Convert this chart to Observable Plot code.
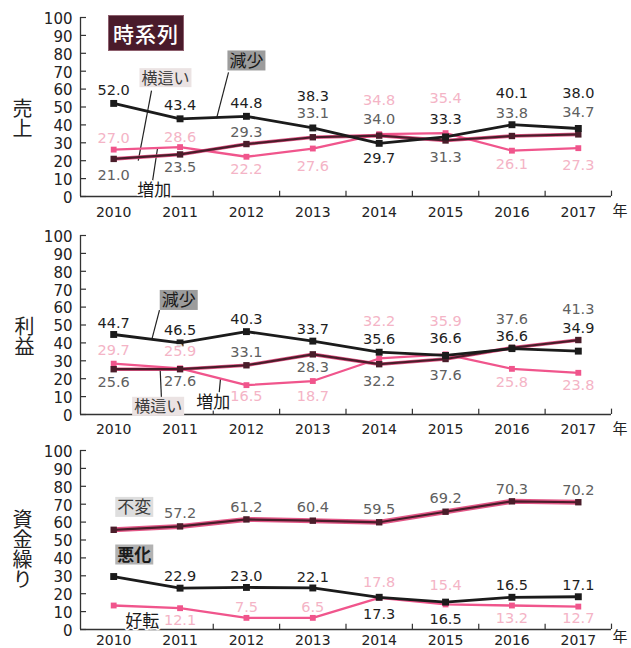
<!DOCTYPE html>
<html>
<head>
<meta charset="utf-8">
<script src="https://cdn.jsdelivr.net/npm/d3@7"></script>
<script src="https://cdn.jsdelivr.net/npm/@observablehq/plot@0.6"></script>
<style>
  html, body { margin: 0; padding: 0; background: #fff; overflow: hidden; }
  #chart { position: relative; width: 631px; height: 648px; overflow: hidden; font-family: "DejaVu Sans", sans-serif; }
  .panel { position: absolute; left: 0; }
  .vlabel { position: absolute; writing-mode: vertical-rl; font-family: "Noto Sans CJK JP", sans-serif; font-weight: 400; font-size: 20px; line-height: 1; color: #222; }
  #badge { position: absolute; left: 108px; top: 15px; width: 76px; height: 36px; background: #4a1b2b; color: #fff; font-family: "Noto Sans CJK JP", sans-serif; font-weight: 500; font-size: 21px; display: flex; align-items: center; justify-content: center; letter-spacing: 1px; box-shadow: inset 0 0 0 1px #8d5f6d; z-index: 5; }
</style>
</head>
<body>
<div id="chart">
  <div class="vlabel" style="left:12px;top:98px">売上</div>
  <div class="vlabel" style="left:14px;top:316px">利益</div>
  <div class="vlabel" style="left:12px;top:509px">資金繰り</div>
  <div id="badge">時系列</div>
</div>
<script>
// ---------- data ----------
const years = [2010, 2011, 2012, 2013, 2014, 2015, 2016, 2017];
const yTicks = [0, 10, 20, 30, 40, 50, 60, 70, 80, 90, 100];
const yearBounds = [2010.5, 2011.5, 2012.5, 2013.5, 2014.5, 2015.5, 2016.5, 2017.5];
const panelTitles = ["売上", "利益", "資金繰り"];

// 売上 (sales)
const salesDecrease = [52.0, 43.4, 44.8, 38.3, 29.7, 33.3, 40.1, 38.0];
const salesDecreaseText = ["52.0", "43.4", "44.8", "38.3", "29.7", "33.3", "40.1", "38.0"];
const salesFlat = [21.0, 23.5, 29.3, 33.1, 34.0, 31.3, 33.8, 34.7];
const salesFlatText = ["21.0", "23.5", "29.3", "33.1", "34.0", "31.3", "33.8", "34.7"];
const salesIncrease = [26.2, 27.6, 22.2, 26.8, 34.8, 35.4, 25.6, 27.0];
const salesIncreaseText = ["27.0", "28.6", "22.2", "27.6", "34.8", "35.4", "26.1", "27.3"];

// 利益 (profit)
const profitDecrease = [44.7, 40.0, 46.3, 41.0, 34.8, 33.0, 36.8, 35.4];
const profitDecreaseText = ["44.7", "46.5", "40.3", "33.7", "35.6", "36.6", "36.6", "34.9"];
const profitFlat = [25.3, 25.3, 27.5, 33.6, 28.1, 31.0, 37.3, 41.6];
const profitFlatText = ["25.6", "27.6", "33.1", "28.3", "32.2", "37.6", "37.6", "41.3"];
const profitIncrease = [28.4, 25.8, 16.4, 18.7, 31.3, 33.6, 25.5, 23.3];
const profitIncreaseText = ["29.7", "25.9", "16.5", "18.7", "32.2", "35.9", "25.8", "23.8"];

// 資金繰り (cash flow)
const cashSame = [55.7, 57.6, 61.5, 60.8, 59.9, 65.8, 71.6, 71.1];
const cashSameText = ["", "57.2", "61.2", "60.4", "59.5", "69.2", "70.3", "70.2"];
const cashWorse = [29.6, 23.1, 23.5, 23.2, 18.0, 15.3, 18.0, 18.3];
const cashWorseText = ["", "22.9", "23.0", "22.1", "17.3", "16.5", "16.5", "17.1"];
const cashBetter = [13.4, 11.9, 6.5, 6.5, 17.7, 14.0, 13.4, 12.8];
const cashBetterText = ["", "12.1", "7.5", "6.5", "17.8", "15.4", "13.2", "12.7"];

// ---------- layout (label offsets in px, negative = above) ----------
const salesDecreaseDy = [-13, -13, -13, -32, 15, -18, -31, -35];
const salesFlatDy = [16, 13, -12, -24, -16, 17, -23, -22];
const salesIncreaseDy = [-11, -10, 13, 18, -34, -35, 14, 17];
const profitDecreaseDy = [-11, -13, -12, -12, -13, -17, -12, -23];
const profitFlatDy = [13, 12, -13, 13, 17, 16, -28, -31];
const profitIncreaseDy = [-13, -17, 11, 15, -37, -33, 14, 13];
const cashSameDy = [0, -13, -12, -13, -13, -13, -12, -12];
const cashWorseDy = [0, -12, -11, -11, 17, 17, -12, -11];
const cashBetterDy = [0, 12, -11, -11, -15, -19, 13, 12];

// annotation labels (in chart data space: year, value)
const salesNotes = [
  {text: "減少", x: 2012.0, y: 75.4, style: "grey"},
  {text: "横這い", x: 2010.78, y: 65.9, style: "light"},
  {text: "増加", x: 2010.61, y: 3.4, style: "plain"}
];
const salesLeaders = [
  {x1: 2011.73, y1: 69.3, x2: 2011.55, y2: 43.6},
  {x1: 2010.57, y1: 59.2, x2: 2010.37, y2: 20.1},
  {x1: 2010.58, y1: 7.3, x2: 2010.66, y2: 26.8}
];
const profitNotes = [
  {text: "減少", x: 2010.98, y: 63.4, style: "grey"},
  {text: "横這い", x: 2010.67, y: 4.1, style: "light"},
  {text: "増加", x: 2011.5, y: 6.4, style: "plain"}
];
const profitLeaders = [
  {x1: 2010.69, y1: 58.3, x2: 2010.58, y2: 42.7},
  {x1: 2010.70, y1: 25.4, x2: 2010.72, y2: 8.6},
  {x1: 2011.61, y1: 20.3, x2: 2011.59, y2: 12.5}
];
const cashNotes = [
  {text: "不変", x: 2010.31, y: 67.9, style: "light"},
  {text: "悪化", x: 2010.31, y: 41.3, style: "grey"},
  {text: "好転", x: 2010.43, y: 4.5, style: "plain"}
];
const cashLeaders = [];

// ---------- styles ----------
const BLACK = "#1b1b1b", MAROON = "#4a1d2a", PINK = "#f0558c", HALO = "#e0457a";
const LABEL_COLOR = {black: "#1e1e1e", maroon: "#606060", pink: "#f4b4c6"};
const CJK = "Noto Sans CJK JP, sans-serif";
const PLOT_H = 179, PX_PER_UNIT = PLOT_H / 100;

const panels = [
  {top: 0, height: 224, marginBottom: 28, yearDy: 16, nenDy: 15, notes: salesNotes, leaders: salesLeaders, haloW: 3.6,
   series: [
     {values: salesIncrease, text: salesIncreaseText, dy: salesIncreaseDy, kind: "pink"},
     {values: salesFlat, text: salesFlatText, dy: salesFlatDy, kind: "maroon"},
     {values: salesDecrease, text: salesDecreaseText, dy: salesDecreaseDy, kind: "black"}]},
  {top: 217.5, height: 224, marginBottom: 28, yearDy: 15.5, nenDy: 14.5, notes: profitNotes, leaders: profitLeaders, haloW: 3.6,
   series: [
     {values: profitIncrease, text: profitIncreaseText, dy: profitIncreaseDy, kind: "pink"},
     {values: profitFlat, text: profitFlatText, dy: profitFlatDy, kind: "maroon"},
     {values: profitDecrease, text: profitDecreaseText, dy: profitDecreaseDy, kind: "black"}]},
  {top: 433, height: 215, marginBottom: 19, yearDy: 11.5, nenDy: 8, notes: cashNotes, leaders: cashLeaders, haloW: 5,
   series: [
     {values: cashBetter, text: cashBetterText, dy: cashBetterDy, kind: "pink"},
     {values: cashSame, text: cashSameText, dy: cashSameDy, kind: "maroon"},
     {values: cashWorse, text: cashWorseText, dy: cashWorseDy, kind: "black"}]}
];

function rows(s) {
  return years.map((year, i) => ({year, value: s.values[i], label: s.text[i], off: s.dy[i]}));
}

function makePanel(p, idx) {
  const marks = [];
  const x0 = 2009.5, x1 = 2017.5;
  // axes
  marks.push(Plot.ruleX([x0], {y1: 0, y2: 100, stroke: "#333", strokeWidth: 1.3}));
  marks.push(Plot.ruleY([0], {x1: x0, x2: x1, stroke: "#333", strokeWidth: 1.3}));
  marks.push(Plot.ruleY(yTicks, {y: d => d, x1: x0, x2: x0 + 6 / 66.375, stroke: "#333", strokeWidth: 1.2}));
  marks.push(Plot.ruleX(yearBounds, {x: d => d, y1: 0, y2: 3, stroke: "#333", strokeWidth: 1.2}));
  marks.push(Plot.text(yTicks, {x: x0, y: d => d, text: d => String(d), textAnchor: "end", dx: -8, dy: 1.5, fontSize: 15, fill: "#222"}));
  marks.push(Plot.text(years, {x: d => d, y: 0, text: d => String(d), dy: p.yearDy, fontSize: 14, fill: "#222"}));
  marks.push(Plot.text(["年"], {x: x1, y: 0, text: d => d, textAnchor: "start", dx: 1, dy: p.nenDy, fontSize: 15, fontFamily: CJK, fill: "#222"}));

  // leaders
  marks.push(Plot.link(p.leaders, {x1: "x1", y1: "y1", x2: "x2", y2: "y2", stroke: "#222", strokeWidth: 1.2}));

  // lines & markers
  for (const s of p.series) {
    const data = rows(s);
    if (s.kind === "maroon") {
      marks.push(Plot.line(data, {x: "year", y: "value", stroke: HALO, strokeWidth: p.haloW, strokeOpacity: 0.9}));
      marks.push(Plot.line(data, {x: "year", y: "value", stroke: MAROON, strokeWidth: 2.2}));
      marks.push(Plot.dot(data, {x: "year", y: "value", symbol: "square", r: 3.6, fill: MAROON}));
    } else if (s.kind === "black") {
      marks.push(Plot.line(data, {x: "year", y: "value", stroke: BLACK, strokeWidth: 2.8}));
      marks.push(Plot.dot(data, {x: "year", y: "value", symbol: "square", r: 3.9, fill: BLACK}));
    } else {
      marks.push(Plot.line(data, {x: "year", y: "value", stroke: PINK, strokeWidth: 2.3}));
      marks.push(Plot.dot(data, {x: "year", y: "value", symbol: "square", r: 3.3, fill: PINK}));
    }
  }

  // value labels
  for (const s of p.series) {
    const data = rows(s).filter(d => d.label);
    const ly = d => d.value - d.off / PX_PER_UNIT;
    marks.push(Plot.text(data, {x: "year", y: ly, text: "label", fontSize: 14.5, fill: "none", stroke: "#fff", strokeWidth: 4, strokeOpacity: 0.85}));
    marks.push(Plot.text(data, {x: "year", y: ly, text: "label", fontSize: 14.5, fill: LABEL_COLOR[s.kind]}));
  }

  // annotation texts
  const boxed = p.notes.filter(d => d.style !== "plain");
  const plain = p.notes.filter(d => d.style === "plain");
  for (const d of boxed) {
    marks.push(Plot.text([d], {x: "x", y: "y", text: "text", fontSize: d.text.length > 2 ? 16 : 17, fontFamily: CJK,
      fontWeight: (idx === 2 && d.style === "grey") ? "bold" : "normal",
      fill: d.style === "grey" ? "#1a1a1a" : "#3a3a3a"}));
  }
  marks.push(Plot.text(plain, {x: "x", y: "y", text: "text", fontSize: 17, fontFamily: CJK, fill: "none", stroke: "#fff", strokeWidth: 3}));
  marks.push(Plot.text(plain, {x: "x", y: "y", text: "text", fontSize: 17, fontFamily: CJK, fill: "#1a1a1a"}));

  return Plot.plot({
    width: 631,
    height: p.height,
    marginTop: 17,
    marginBottom: p.marginBottom,
    marginLeft: 80,
    marginRight: 20,
    x: {domain: [x0, x1], axis: null},
    y: {domain: [0, 100], axis: null},
    style: {fontFamily: "DejaVu Sans, sans-serif", background: "transparent", overflow: "visible"},
    ariaLabel: panelTitles[idx],
    marks
  });
}

const chart = document.getElementById("chart");
const badge = document.getElementById("badge");
panels.forEach((p, idx) => {
  const svg = makePanel(p, idx);
  svg.classList.add("panel");
  svg.style.position = "absolute";
  svg.style.top = p.top + "px";
  svg.style.left = "0px";
  chart.insertBefore(svg, badge);
  // boxes behind boxed annotation labels
  const boxColor = {};
  for (const d of p.notes) {
    if (d.style === "grey") boxColor[d.text] = idx === 2 ? "#b2b2b2" : "#9c9c9c";
    if (d.style === "light") boxColor[d.text] = idx === 2 ? "#dedede" : "#ebe3e3";
  }
  svg.querySelectorAll("text").forEach(t => {
    const key = t.textContent;
    if (!(key in boxColor)) return;
    const b = t.getBBox();
    const fs = parseFloat(getComputedStyle(t).fontSize) || 17;
    const h = fs + 3;
    const r = document.createElementNS("http://www.w3.org/2000/svg", "rect");
    r.setAttribute("x", b.x - 2);
    r.setAttribute("y", b.y + b.height / 2 + 1 - h / 2);
    r.setAttribute("width", b.width + 4);
    r.setAttribute("height", h);
    r.setAttribute("fill", boxColor[key]);
    const tr = t.getAttribute("transform");
    if (tr) r.setAttribute("transform", tr);
    t.parentNode.insertBefore(r, t);
  });
});
</script>
</body>
</html>
